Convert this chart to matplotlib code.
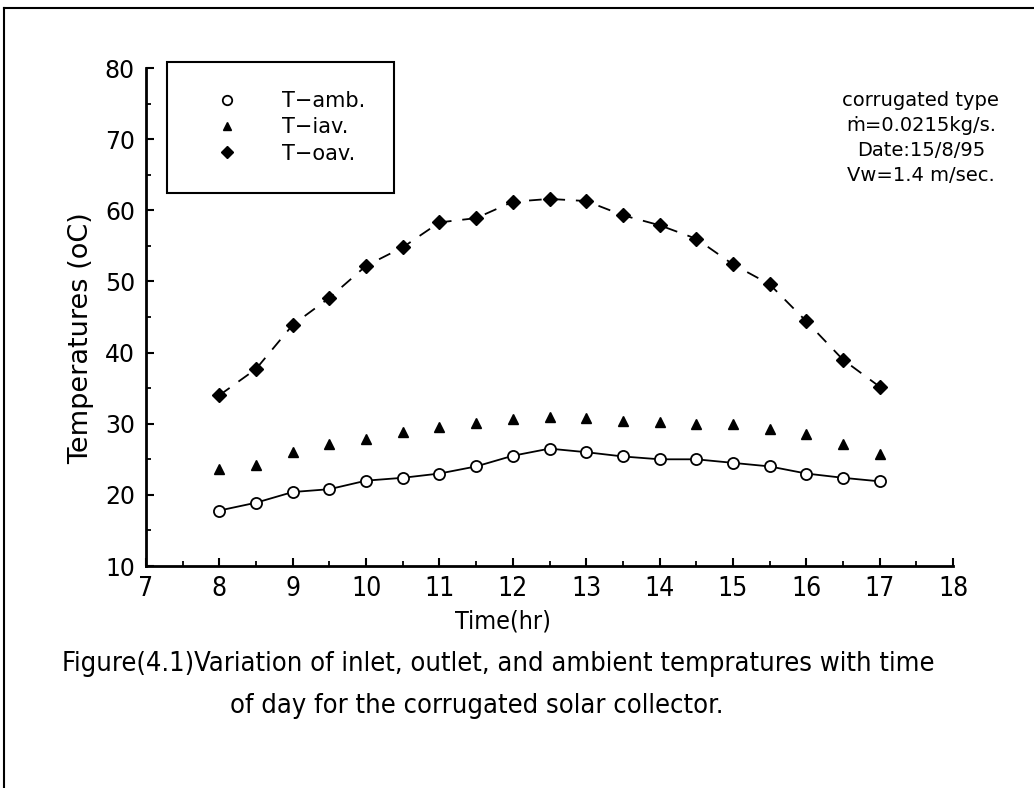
import numpy as np
import matplotlib
matplotlib.use("Agg")
import matplotlib.pyplot as plt
from matplotlib.lines import Line2D
from matplotlib.ticker import MultipleLocator

# measured temperatures over the day, corrugated collector (15/8/95)
hours = [8, 8.5, 9, 9.5, 10, 10.5, 11, 11.5, 12, 12.5,
         13, 13.5, 14, 14.5, 15, 15.5, 16, 16.5, 17]
t_amb = [17.8, 18.9, 20.4, 20.8, 22.0, 22.4, 23.0, 24.0, 25.5, 26.5,
         26.0, 25.4, 25.0, 25.0, 24.5, 24.0, 23.0, 22.4, 21.9]
t_iav = [23.7, 24.2, 26.0, 27.2, 27.8, 28.9, 29.5, 30.1, 30.6, 30.9,
         30.8, 30.4, 30.3, 30.0, 29.9, 29.2, 28.5, 27.2, 25.8]
t_oav = [34.0, 37.7, 43.9, 47.7, 52.2, 54.8, 58.3, 58.9, 61.2, 61.6,
         61.3, 59.3, 57.9, 56.0, 52.4, 49.6, 44.4, 39.0, 35.2]

legend_labels = ["T\u2212amb.", "T\u2212iav.", "T\u2212oav."]
info_lines = ["corrugated type", "\u1e41=0.0215kg/s.", "Date:15/8/95", "Vw=1.4 m/sec."]
caption_1 = "Figure(4.1)Variation of inlet, outlet, and ambient tempratures with time"
caption_2 = "of day for the corrugated solar collector."

fig = plt.figure(figsize=(10.34, 7.88), dpi=100)
ax = fig.add_axes([0.1412, 0.2817, 0.7805, 0.632])

l1, = ax.plot(hours, t_amb, color="black", lw=1.3, marker="o", ms=8,
              mfc="white", mec="black", mew=1.3)
l2, = ax.plot(hours, t_iav, ls="none", marker="^", ms=7.5, color="black")
l3, = ax.plot(hours, t_oav, color="black", lw=1.3, ls=(0, (7, 6)),
              marker="D", ms=7.5)

ax.set_xlim(7, 18)
ax.set_ylim(10, 80)
ax.xaxis.set_major_locator(MultipleLocator(1))
ax.xaxis.set_minor_locator(MultipleLocator(0.5))
ax.yaxis.set_major_locator(MultipleLocator(10))
ax.yaxis.set_minor_locator(MultipleLocator(5))
ax.tick_params(which="major", direction="in", length=6, width=1.5)
ax.tick_params(which="minor", direction="in", length=3.5, width=1.3)
ax.tick_params(axis="y", labelsize=17, pad=8)
ax.tick_params(axis="x", labelsize=19, pad=7)
for lab in ax.get_xticklabels():
    lab.set_stretch("condensed")

for side in ["top", "right"]:
    ax.spines[side].set_visible(False)
for side in ["left", "bottom"]:
    ax.spines[side].set_linewidth(2)

ax.set_ylabel("Temperatures (oC)", fontsize=19.5)
ax.yaxis.set_label_coords(-0.064, 0.458)
ax.set_xlabel("Time(hr)", fontsize=18, fontstretch="condensed")
ax.xaxis.set_label_coords(0.442, -0.088)

leg = ax.legend([l1, l2, l3], legend_labels, loc="upper left",
                bbox_to_anchor=(0.026, 1.012), fontsize=15, frameon=True,
                fancybox=False, handlelength=3.0, handletextpad=1.1,
                borderpad=1.4, borderaxespad=0, labelspacing=0.3,
                markerscale=0.85)
leg.get_frame().set_edgecolor("black")
leg.get_frame().set_linewidth(1.5)
leg.get_frame().set_alpha(1)
for h in leg.legend_handles:
    h.set_linestyle("none")

for i, s in enumerate(info_lines):
    ax.text(0.96, 0.935 - i * 0.05, s, transform=ax.transAxes,
            ha="center", va="center", fontsize=14)

fig.text(0.060, 0.157, caption_1, fontsize=19.5, fontstretch="condensed",
         va="center")
fig.text(0.222, 0.104, caption_2, fontsize=19.5, fontstretch="condensed",
         va="center")

# page border lines
fig.add_artist(Line2D([0.004, 1.0], [0.99, 0.99], color="black", lw=1.5,
                      transform=fig.transFigure))
fig.add_artist(Line2D([0.004, 0.004], [0.0, 0.99], color="black", lw=1.5,
                      transform=fig.transFigure))

fig.savefig("out.png", dpi=100, facecolor="white")
